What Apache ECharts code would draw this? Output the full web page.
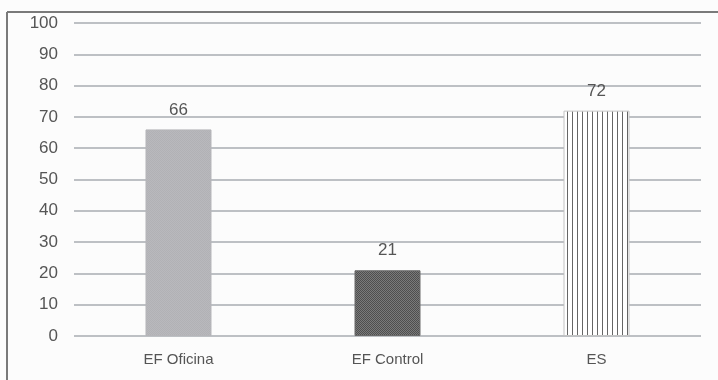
<!DOCTYPE html>
<html>
<head>
<meta charset="utf-8">
<script src="https://cdn.jsdelivr.net/npm/echarts@6/dist/echarts.min.js"></script>
<style>
  html, body { margin: 0; padding: 0; background: #fcfcfc; }
  #chart { width: 718px; height: 380px; }
</style>
</head>
<body>
<div id="chart"></div>
<script>
// Categories and values
const categories = ['EF Oficina', 'EF Control', 'ES'];
const values = [66, 21, 72];
const yTicks = [0, 10, 20, 30, 40, 50, 60, 70, 80, 90, 100];

const FONT = "'Liberation Sans', Arial, sans-serif";

// Fill patterns for each bar
function makePattern(w, h, draw) {
  const c = document.createElement('canvas');
  c.width = w; c.height = h;
  draw(c.getContext('2d'));
  return { image: c, repeat: 'repeat' };
}
const greyFill = makePattern(2, 2, ctx => {
  ctx.fillStyle = '#b9b9bd'; ctx.fillRect(0, 0, 2, 2);
  ctx.fillStyle = '#b1b1b5'; ctx.fillRect(0, 0, 1, 1); ctx.fillRect(1, 1, 1, 1);
});
const darkFill = makePattern(2, 2, ctx => {
  ctx.fillStyle = '#7a7a7a'; ctx.fillRect(0, 0, 2, 2);
  ctx.fillStyle = '#4e4e4e'; ctx.fillRect(0, 0, 1, 1); ctx.fillRect(1, 1, 1, 1);
});
const stripeFill = makePattern(5, 4, ctx => {
  ctx.fillStyle = '#ffffff'; ctx.fillRect(0, 0, 5, 4);
  ctx.fillStyle = '#666666'; ctx.fillRect(2, 0, 1, 4);
});
const fills = [greyFill, darkFill, stripeFill];
const borders = ['#b5b5b9', '#6a6a6a', '#c4c4c4'];

const chart = echarts.init(document.getElementById('chart'));
chart.setOption({
  backgroundColor: '#fcfcfc',
  animation: false,
  grid: { left: 74, right: 17, top: 23, bottom: 44 },
  graphic: [
    { type: 'line', shape: { x1: 7, y1: 12, x2: 718, y2: 12 }, style: { stroke: '#7a7a7a', lineWidth: 2 } },
    { type: 'line', shape: { x1: 7, y1: 12, x2: 7, y2: 380 }, style: { stroke: '#7a7a7a', lineWidth: 2 } }
  ],
  xAxis: {
    type: 'category',
    data: categories,
    axisLine: { show: false },
    axisTick: { show: false },
    axisLabel: { color: '#555', fontSize: 15, fontFamily: FONT, margin: 16 }
  },
  yAxis: {
    type: 'value',
    min: yTicks[0],
    max: yTicks[yTicks.length - 1],
    interval: 10,
    axisLine: { show: false },
    axisTick: { show: false },
    axisLabel: { color: '#555', fontSize: 17, fontFamily: FONT, margin: 16 },
    splitLine: { lineStyle: { color: '#a9acb2', width: 1.5 } }
  },
  series: [{
    type: 'bar',
    barWidth: 66,
    data: values.map((v, i) => ({
      value: v,
      itemStyle: { color: fills[i], borderColor: borders[i], borderWidth: 1 }
    })),
    label: {
      show: true,
      position: 'top',
      distance: 11,
      color: '#555',
      fontSize: 17,
      fontFamily: FONT
    }
  }]
});
</script>
</body>
</html>
